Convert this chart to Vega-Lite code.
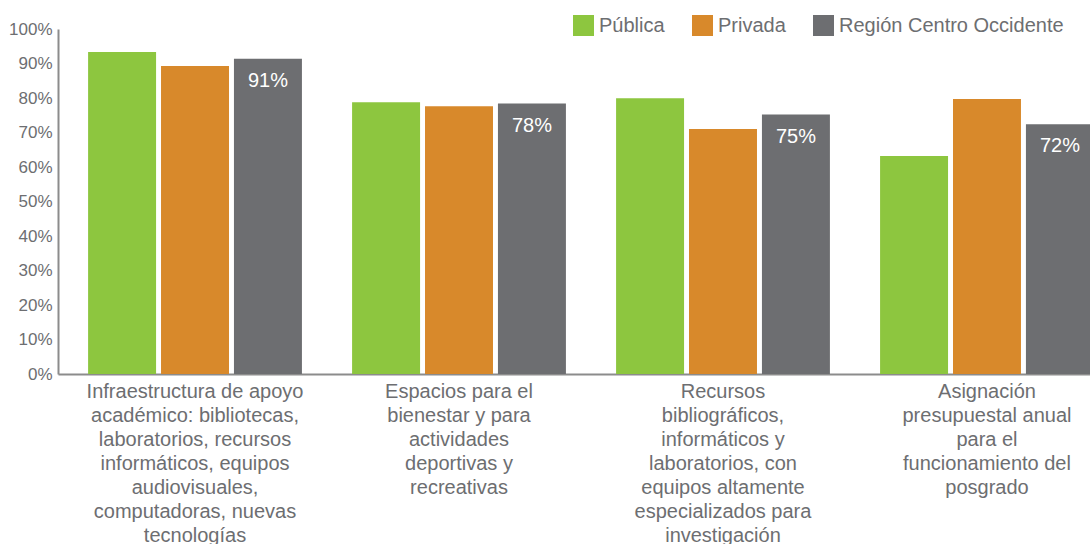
{
  "$schema": "https://vega.github.io/schema/vega-lite/v6.json",
  "width": 1032,
  "height": 345,
  "autosize": {"type": "none"},
  "padding": {"left": 58, "top": 29, "right": 0, "bottom": 170},
  "background": "white",
  "config": {"view": {"stroke": null}, "font": "Liberation Sans"},
  "data": {
    "values": [
      {"category": "Infraestructura de apoyo|académico: bibliotecas,|laboratorios, recursos|informáticos, equipos|audiovisuales,|computadoras, nuevas|tecnologías", "group": "Pública", "value": 0.933},
      {"category": "Infraestructura de apoyo|académico: bibliotecas,|laboratorios, recursos|informáticos, equipos|audiovisuales,|computadoras, nuevas|tecnologías", "group": "Privada", "value": 0.893},
      {"category": "Infraestructura de apoyo|académico: bibliotecas,|laboratorios, recursos|informáticos, equipos|audiovisuales,|computadoras, nuevas|tecnologías", "group": "Región Centro Occidente", "value": 0.914},
      {"category": "Espacios para el|bienestar y para|actividades|deportivas y|recreativas", "group": "Pública", "value": 0.788},
      {"category": "Espacios para el|bienestar y para|actividades|deportivas y|recreativas", "group": "Privada", "value": 0.776},
      {"category": "Espacios para el|bienestar y para|actividades|deportivas y|recreativas", "group": "Región Centro Occidente", "value": 0.784},
      {"category": "Recursos|bibliográficos,|informáticos y|laboratorios, con|equipos altamente|especializados para|investigación", "group": "Pública", "value": 0.799},
      {"category": "Recursos|bibliográficos,|informáticos y|laboratorios, con|equipos altamente|especializados para|investigación", "group": "Privada", "value": 0.71},
      {"category": "Recursos|bibliográficos,|informáticos y|laboratorios, con|equipos altamente|especializados para|investigación", "group": "Región Centro Occidente", "value": 0.752},
      {"category": "Asignación|presupuestal anual|para el|funcionamiento del|posgrado", "group": "Pública", "value": 0.632},
      {"category": "Asignación|presupuestal anual|para el|funcionamiento del|posgrado", "group": "Privada", "value": 0.797},
      {"category": "Asignación|presupuestal anual|para el|funcionamiento del|posgrado", "group": "Región Centro Occidente", "value": 0.724}
    ]
  },
  "encoding": {
    "x": {
      "field": "category",
      "type": "nominal",
      "sort": null,
      "scale": {"range": [0, 1066], "paddingInner": 0.19, "paddingOuter": 0.114},
      "axis": {
        "title": null,
        "labelAngle": 0,
        "ticks": false,
        "domainColor": "#8c8c8c",
        "domainWidth": 2,
        "labelFontSize": 20,
        "labelColor": "#6d6e71",
        "labelLineHeight": 24,
        "labelPadding": 7,
        "labelLimit": 0,
        "labelBaseline": "top",
        "labelExpr": "split(datum.label, '|')"
      }
    },
    "xOffset": {
      "field": "group",
      "type": "nominal",
      "sort": ["Pública", "Privada", "Región Centro Occidente"],
      "scale": {"paddingInner": 0.068, "paddingOuter": 0}
    },
    "y": {
      "field": "value",
      "type": "quantitative",
      "scale": {"domain": [0, 1]},
      "axis": {
        "title": null,
        "values": [0, 0.1, 0.2, 0.3, 0.4, 0.5, 0.6, 0.7, 0.8, 0.9, 1],
        "format": ".0%",
        "grid": false,
        "ticks": false,
        "domainColor": "#8c8c8c",
        "domainWidth": 2,
        "labelFontSize": 17,
        "labelColor": "#6d6e71",
        "labelPadding": 6
      }
    }
  },
  "layer": [
    {
      "mark": {"type": "bar"},
      "encoding": {
        "color": {
          "field": "group",
          "type": "nominal",
          "scale": {
            "domain": ["Pública", "Privada", "Región Centro Occidente"],
            "range": ["#8dc63f", "#d8892b", "#6d6e71"]
          },
          "legend": {
            "title": null,
            "orient": "none",
            "legendX": 515,
            "legendY": -14,
            "direction": "horizontal",
            "symbolType": "square",
            "symbolSize": 441,
            "symbolStrokeWidth": 0,
            "symbolOpacity": 1,
            "labelFontSize": 20,
            "labelColor": "#6d6e71",
            "labelOffset": 5,
            "labelLimit": 0,
            "columnPadding": 27
          }
        }
      }
    },
    {
      "transform": [{"filter": "datum.group === 'Región Centro Occidente'"}],
      "mark": {"type": "text", "dy": 22, "color": "white", "fontSize": 20, "baseline": "middle"},
      "encoding": {"text": {"field": "value", "type": "quantitative", "format": ".0%"}}
    }
  ]
}
